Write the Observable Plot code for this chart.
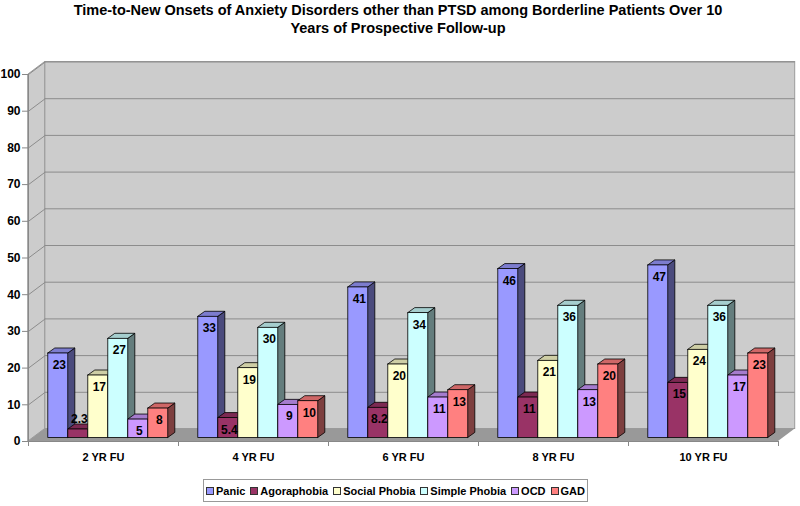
<!DOCTYPE html>
<html><head><meta charset="utf-8">
<script src="https://cdn.jsdelivr.net/npm/d3@7"></script>
<script src="https://cdn.jsdelivr.net/npm/@observablehq/plot@0.6"></script>
<style>
body{margin:0;background:#fff;font-family:"Liberation Sans",Arial,sans-serif;}
#wrap{position:relative;width:800px;height:506px;}
#title{position:absolute;left:0;top:1px;width:796px;text-align:center;font-weight:bold;font-size:14.5px;line-height:18px;color:#000;z-index:2;}
#legend{position:absolute;left:203px;top:479px;width:385px;height:23px;border:1px solid #999;box-sizing:border-box;display:flex;align-items:center;justify-content:center;gap:5px;font-weight:bold;font-size:11px;color:#000;background:#fff;white-space:nowrap;z-index:2;}
#legend span.item{display:flex;align-items:center;gap:2px;white-space:nowrap;}
#legend i{display:inline-block;width:6px;height:6px;border:1px solid #333;}
svg{position:absolute;left:0;top:0;}
</style></head>
<body>
<div id="wrap">
<div id="title">Time-to-New Onsets of Anxiety Disorders other than PTSD among Borderline Patients Over 10<br>Years of Prospective Follow-up</div>
<div id="legend"></div>
</div>
<script>
const categories = ["2 YR FU", "4 YR FU", "6 YR FU", "8 YR FU", "10 YR FU"];
const seriesNames = ["Panic", "Agoraphobia", "Social Phobia", "Simple Phobia", "OCD", "GAD"];
const panic = [23, 33, 41, 46, 47];
const agoraphobia = [2.3, 5.4, 8.2, 11, 15];
const socialPhobia = [17, 19, 20, 21, 24];
const simplePhobia = [27, 30, 34, 36, 36];
const ocd = [5, 9, 11, 13, 17];
const gad = [8, 10, 13, 20, 23];
const seriesColors = ["#9999ff", "#993366", "#ffffcc", "#ccffff", "#cc99ff", "#ff8080"];
const yTicks = [0, 10, 20, 30, 40, 50, 60, 70, 80, 90, 100];

const seriesValues = [panic, agoraphobia, socialPhobia, simplePhobia, ocd, gad];

// geometry (pixel depth converted to data units)
const W = 800, H = 506, mL = 28, mR = 22, mT = 74, mB = 65;
const pxX = (W - mL - mR) / categories.length;   // px per x unit
const pxY = (H - mT - mB) / 100;                // px per y unit
const wallDX = 16.7, wallDY = 12.5;             // wall depth px
const barDX = 7, barDY = 5;                     // bar depth px
const barOffX = 4.8, barOffY = -3.6;            // bar position inside depth
const wdx = wallDX / pxX, wdy = wallDY / pxY;
const bdx = barDX / pxX, bdy = barDY / pxY;
const pad = 0.1, bw = (1 - 2 * pad) / seriesNames.length;

const bars = [];
categories.forEach((c, i) => {
  seriesNames.forEach((s, j) => {
    const v = seriesValues[j][i];
    const x1 = i + pad + j * bw;
    bars.push({id: i * 10 + j, cat: c, series: s, v, x1, x2: x1 + bw,
      front: seriesColors[j],
      top: d3.rgb(seriesColors[j]).darker(0.6).formatHex(),
      side: d3.rgb(seriesColors[j]).darker(2).formatHex()});
  });
});
const sidePts = bars.flatMap(b => [
  {id: b.id, x: b.x2, y1: 0, y2: b.v, fill: b.side},
  {id: b.id, x: b.x2 + bdx, y1: bdy, y2: b.v + bdy, fill: b.side}]);
const topPts = bars.flatMap(b => [
  {id: b.id, y: b.v, x1: b.x1, x2: b.x2, fill: b.top},
  {id: b.id, y: b.v + bdy, x1: b.x1 + bdx, x2: b.x2 + bdx, fill: b.top}]);

const wallGray = "#cccccc", floorGray = "#999999", gridGray = "#8c8c8c";

const plot = Plot.plot({
  width: W, height: H,
  marginLeft: mL, marginRight: mR, marginTop: mT, marginBottom: mB,
  x: {domain: [0, categories.length], axis: null},
  y: {domain: [0, 100], axis: null},
  color: {type: "identity"},
  style: {fontFamily: "Liberation Sans, Arial, sans-serif", background: "transparent", overflow: "visible"},
  marks: [
    Plot.rect([0], {x1: 0, x2: categories.length, y1: 0, y2: 100, dx: wallDX, dy: -wallDY, fill: wallGray, stroke: "#9a9a9a"}),
    Plot.areaY([{x: 0, y1: 0, y2: 100}, {x: wdx, y1: wdy, y2: 100 + wdy}], {x: "x", y1: "y1", y2: "y2", fill: wallGray, stroke: "#9a9a9a"}),
    Plot.areaX([{y: 0, x1: 0, x2: categories.length}, {y: wdy, x1: wdx, x2: categories.length + wdx}], {y: "y", x1: "x1", x2: "x2", fill: floorGray}),
    Plot.ruleY(yTicks.filter(d => d > 0), {y: d => d, x1: 0, x2: categories.length, dx: wallDX, dy: -wallDY, stroke: gridGray}),
    Plot.link(yTicks.filter(d => d > 0), {x1: 0, y1: d => d, x2: wdx, y2: d => d + wdy, stroke: gridGray}),
    Plot.ruleX([0], {x: d => d, y1: 0, y2: 100, stroke: "#888"}),
    Plot.ruleY([0], {y: d => d, x1: 0, x2: categories.length, stroke: "#888"}),
    Plot.ruleY(yTicks, {y: d => d, x1: -6 / pxX, x2: 0, stroke: "#888"}),
    Plot.ruleX(d3.range(categories.length + 1), {x: d => d, y1: 0, y2: -5 / pxY, stroke: "#888"}),
    Plot.text(yTicks, {x: 0, y: d => d, text: d => String(d), textAnchor: "end", dx: -8, fontSize: 12, fontWeight: "bold", fill: "#000"}),
    Plot.text(categories, {x: (d, i) => i + 0.5, y: 0, text: d => d, dy: 16, fontSize: 11, fontWeight: "bold", fill: "#000"}),
    Plot.areaY(sidePts, {x: "x", y1: "y1", y2: "y2", z: "id", fill: "fill", stroke: "#000", strokeWidth: 0.8, dx: barOffX, dy: barOffY}),
    Plot.areaX(topPts, {y: "y", x1: "x1", x2: "x2", z: "id", fill: "fill", stroke: "#000", strokeWidth: 0.8, dx: barOffX, dy: barOffY}),
    Plot.rect(bars, {x1: "x1", x2: "x2", y1: 0, y2: "v", fill: "front", stroke: "#000", strokeWidth: 0.8, dx: barOffX, dy: barOffY}),
    Plot.text(bars.filter(b => b.v >= 4), {x: b => (b.x1 + b.x2) / 2, y: "v", text: b => String(b.v), dx: barOffX + 1, dy: 8, fontSize: 12, fontWeight: "bold", fill: "#000"}),
    Plot.text(bars.filter(b => b.v < 4), {x: b => (b.x1 + b.x2) / 2, y: "v", text: b => String(b.v), dx: barOffX + 1, dy: -14, fontSize: 12, fontWeight: "bold", fill: "#000"})
  ]
});
document.getElementById("wrap").prepend(plot);

const legend = document.getElementById("legend");
seriesNames.forEach((s, j) => {
  const item = document.createElement("span");
  item.className = "item";
  const sw = document.createElement("i");
  sw.style.background = seriesColors[j];
  item.appendChild(sw);
  item.appendChild(document.createTextNode(s));
  legend.appendChild(item);
});
</script>
</body></html>
